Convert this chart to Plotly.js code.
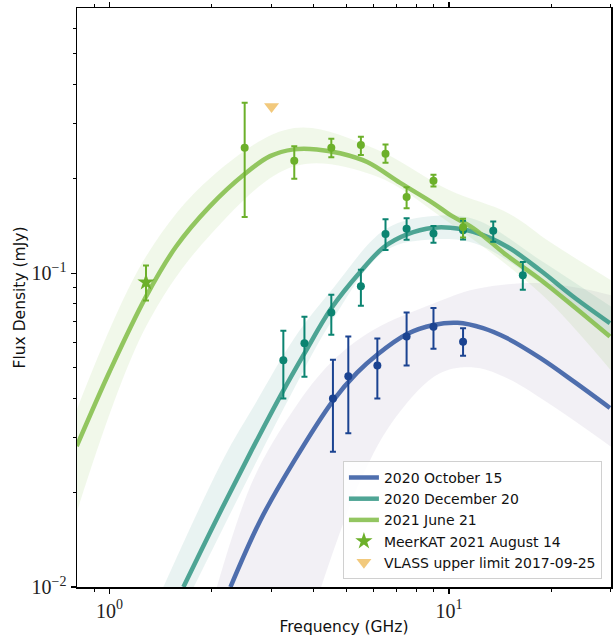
<!DOCTYPE html>
<html>
<head>
<meta charset="utf-8">
<script src="https://cdn.plot.ly/plotly-3.0.1.min.js"></script>
<style>html,body{margin:0;padding:0;background:#fff;}#chart{width:613px;height:637px;}</style>
</head>
<body>
<div id="chart"></div>
<script>
// ---------- observed points ----------
const oct_freq = [4.55, 5.05, 6.15, 7.5, 9.0, 11.0];
const oct_flux = [0.0399, 0.0469, 0.0508, 0.0628, 0.0675, 0.0605];
const oct_hi   = [0.0530, 0.0628, 0.0619, 0.0750, 0.0774, 0.0667];
const oct_lo   = [0.0270, 0.0309, 0.0399, 0.0508, 0.0574, 0.0546];

const dec_freq = [3.25, 3.75, 4.5, 5.5, 6.5, 7.5, 9.0, 11.0, 13.5, 16.5];
const dec_flux = [0.0528, 0.0598, 0.0749, 0.0909, 0.1334, 0.1386, 0.1337, 0.137, 0.1364, 0.0985];
const dec_hi   = [0.0656, 0.0727, 0.0853, 0.1026, 0.1486, 0.1496, 0.1414, 0.147, 0.146, 0.1086];
const dec_lo   = [0.0399, 0.0468, 0.0637, 0.0787, 0.1186, 0.1277, 0.1251, 0.128, 0.126, 0.0885];

const jun_freq = [2.5, 3.5, 4.5, 5.5, 6.5, 7.5, 9.0, 11.0];
const jun_flux = [0.251, 0.228, 0.251, 0.256, 0.240, 0.175, 0.197, 0.140];
const jun_hi   = [0.349, 0.254, 0.268, 0.272, 0.257, 0.188, 0.206, 0.149];
const jun_lo   = [0.151, 0.200, 0.234, 0.238, 0.225, 0.161, 0.189, 0.130];

const meer_freq = [1.28], meer_flux = [0.0936], meer_hi = [0.1057], meer_lo = [0.0818];
const vlass_freq = [3.0], vlass_flux = [0.34];

// ---------- best-fit model curves ----------
const octFit_f = [2.27, 2.78, 3.48, 4.55, 5.36, 6.14, 7.52, 9.0, 10.6, 12.6, 14.8, 18.6, 23.3, 29.8];
const octFit_y = [0.0100, 0.0163, 0.0250, 0.0392, 0.0482, 0.0550, 0.0640, 0.0684, 0.0695, 0.0668, 0.0621, 0.0536, 0.0452, 0.0372];

const decFit_f = [1.65, 2.07, 2.6, 3.24, 3.75, 4.49, 5.48, 6.42, 7.52, 9.0, 10.1, 11.8, 14.8, 18.6, 23.3, 29.8];
const decFit_y = [0.0100, 0.0165, 0.0268, 0.0420, 0.0555, 0.0770, 0.101, 0.121, 0.133, 0.1396, 0.1396, 0.1355, 0.1216, 0.102, 0.084, 0.0693];

const junFit_f = [0.8, 1.0, 1.28, 1.57, 1.97, 2.5, 2.97, 3.49, 4.08, 4.78, 5.74, 7.18, 9.0, 10.1, 11.8, 14.8, 18.6, 23.3, 29.8];
const junFit_y = [0.0281, 0.0486, 0.0842, 0.1216, 0.163, 0.207, 0.236, 0.248, 0.248, 0.241, 0.226, 0.194, 0.167, 0.153, 0.139, 0.114, 0.0953, 0.0783, 0.0628];

// ---------- posterior-sample envelopes ----------
const octUp_f = [2.07, 2.65, 3.5, 4.5, 6.0, 9.0, 12.0, 18.0, 25.0, 30.0];
const octUp_y = [0.0100, 0.022, 0.037, 0.052, 0.066, 0.080, 0.089, 0.093, 0.089, 0.085];
const octLo_f = [4.2, 5.5, 7.0, 9.4, 12.0, 15.0, 20.0, 30.0];
const octLo_y = [0.0100, 0.022, 0.035, 0.048, 0.050, 0.046, 0.038, 0.028];

const decUp_f = [1.44, 2.16, 2.71, 3.5, 4.5, 6.5, 9.0, 12.0, 18.6, 30.0];
const decUp_y = [0.0100, 0.0255, 0.039, 0.062, 0.088, 0.138, 0.152, 0.148, 0.110, 0.0783];
const decLo_f = [1.77, 2.6, 3.5, 4.5, 6.5, 9.0, 12.0, 18.6, 30.0];
const decLo_y = [0.0100, 0.023, 0.043, 0.070, 0.118, 0.128, 0.124, 0.093, 0.0628];

const junUp_f = [0.8, 1.28, 2.0, 3.5, 6.0, 10.0, 15.0, 20.0, 30.0];
const junUp_y = [0.0367, 0.113, 0.203, 0.290, 0.250, 0.184, 0.155, 0.125, 0.095];
const junLo_f = [0.8, 1.28, 2.0, 3.5, 6.0, 10.0, 15.0, 20.0, 30.0];
const junLo_y = [0.0173, 0.0676, 0.134, 0.219, 0.205, 0.145, 0.105, 0.080, 0.049];

// ---------- ticks ----------
const xTickVals = [1, 10];
const xTickText = ['10<sup>0</sup>', '10<sup>1</sup>'];
const yTickVals = [0.01, 0.1];
const yTickText = ['10<sup>\u22122</sup>', '10<sup>\u22121</sup>'];
const xMinor = [0.9, 2, 3, 4, 5, 6, 7, 8, 9, 20, 30];
const yMinor = [0.02, 0.03, 0.04, 0.05, 0.06, 0.07, 0.08, 0.09, 0.2, 0.3, 0.4, 0.5, 0.6];

// colours
const C = {
  octLine: 'rgba(60,95,165,0.9)', octPt: '#1b4391', octBand: 'rgba(150,130,175,0.12)',
  decLine: 'rgba(60,155,138,0.9)', decPt: '#0b8471', decBand: 'rgba(70,160,145,0.12)',
  junLine: 'rgba(135,192,80,0.9)', junPt: '#6cb02a', junBand: 'rgba(140,195,85,0.12)',
  vlass: '#f2c97c'
};

function band(fu, yu, fl, yl, col) {
  return [
    {x: fl, y: yl, mode: 'lines', line: {width: 0, shape: 'spline'}, showlegend: false, hoverinfo: 'skip'},
    {x: fu, y: yu, mode: 'lines', line: {width: 0, shape: 'spline'}, fill: 'tonexty', fillcolor: col, showlegend: false, hoverinfo: 'skip'}
  ];
}
function pts(f, y, hi, lo, col) {
  return {
    x: f, y: y, mode: 'markers', type: 'scatter', showlegend: false,
    marker: {color: col, size: 8},
    error_y: {type: 'data', symmetric: false,
      array: hi.map((v, i) => v - y[i]), arrayminus: lo.map((v, i) => y[i] - v),
      color: col, thickness: 2, width: 3}
  };
}

const traces = [].concat(
  band(octUp_f, octUp_y, octLo_f, octLo_y, C.octBand),
  band(decUp_f, decUp_y, decLo_f, decLo_y, C.decBand),
  band(junUp_f, junUp_y, junLo_f, junLo_y, C.junBand),
  [
    {x: octFit_f, y: octFit_y, mode: 'lines', name: '2020 October 15', legendrank: 1,
     line: {color: C.octLine, width: 4.5, shape: 'spline', smoothing: 1}},
    {x: decFit_f, y: decFit_y, mode: 'lines', name: '2020 December 20', legendrank: 2,
     line: {color: C.decLine, width: 4.5, shape: 'spline', smoothing: 1}},
    {x: junFit_f, y: junFit_y, mode: 'lines', name: '2021 June 21', legendrank: 3,
     line: {color: C.junLine, width: 4.5, shape: 'spline', smoothing: 1}},
    pts(oct_freq, oct_flux, oct_hi, oct_lo, C.octPt),
    pts(dec_freq, dec_flux, dec_hi, dec_lo, C.decPt),
    pts(jun_freq, jun_flux, jun_hi, jun_lo, C.junPt),
    Object.assign(pts(meer_freq, meer_flux, meer_hi, meer_lo, C.junPt),
      {showlegend: true, name: 'MeerKAT 2021 August 14', legendrank: 4,
       marker: {color: C.junPt, size: 13, symbol: 'star'}}),
    {x: vlass_freq, y: vlass_flux, mode: 'markers', name: 'VLASS upper limit 2017-09-25', legendrank: 5,
     marker: {color: C.vlass, size: 13, symbol: 'triangle-down'}}
  ]
);

const axisCommon = {
  type: 'log', showgrid: false, zeroline: false,
  showline: true, linecolor: '#000', linewidth: 1.5, mirror: 'allticks',
  ticks: 'outside', ticklen: 5, tickwidth: 1.2, tickcolor: '#000',
  tickmode: 'array',
  tickfont: {family: 'Liberation Serif, serif', size: 20, color: '#222'}
};

const layout = {
  width: 613, height: 637,
  margin: {l: 77, r: 2, t: 8, b: 50},
  paper_bgcolor: '#fff', plot_bgcolor: '#fff',
  showlegend: true,
  xaxis: Object.assign({}, axisCommon, {
    range: [-0.0961, 1.4773], tickvals: xTickVals, ticktext: xTickText,
    minor: {tickvals: xMinor, ticks: 'outside', ticklen: 3, tickwidth: 1, tickcolor: '#000'},
    title: {text: 'Frequency (GHz)', font: {family: 'DejaVu Sans, sans-serif', size: 15.5, color: '#111'}, standoff: 0}
  }),
  yaxis: Object.assign({}, axisCommon, {
    range: [-2, -0.155], tickvals: yTickVals, ticktext: yTickText,
    minor: {tickvals: yMinor, ticks: 'outside', ticklen: 3, tickwidth: 1, tickcolor: '#000'},
    title: {text: 'Flux Density (mJy)', font: {family: 'DejaVu Sans, sans-serif', size: 15.5, color: '#111'}, standoff: 2}
  }),
  legend: {
    x: 0.983, y: 0.014, xanchor: 'right', yanchor: 'bottom',
    traceorder: 'normal',
    bgcolor: 'rgba(255,255,255,0.85)', bordercolor: '#d0d0d0', borderwidth: 1,
    font: {family: 'DejaVu Sans, sans-serif', size: 14, color: '#111'},
    tracegroupgap: 0, itemwidth: 30
  }
};

Plotly.newPlot('chart', traces, layout, {displayModeBar: false, staticPlot: true});
</script>
</body>
</html>
